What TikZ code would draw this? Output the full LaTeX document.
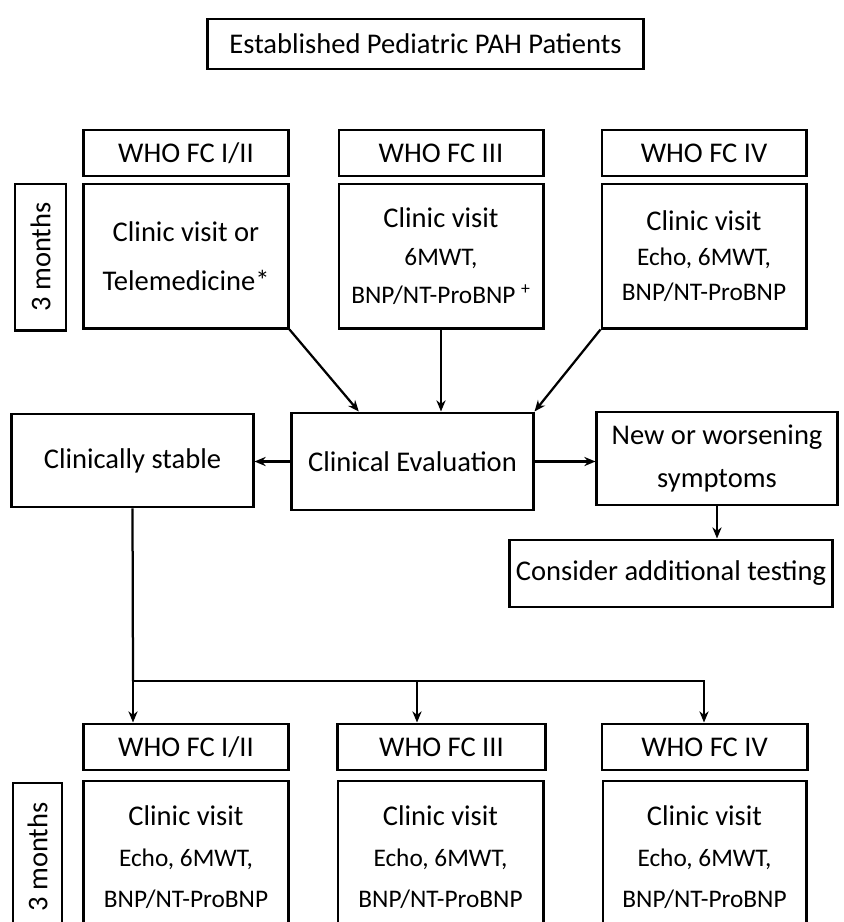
\documentclass[tikz,border=0pt]{standalone}
\usepackage{fontspec}
\setmainfont{Carlito}
\usetikzlibrary{arrows.meta,calc}

\newcommand{\smtxt}[1]{{\fontsize{18}{20}\selectfont #1}}

\begin{document}
\begin{tikzpicture}[x=0.025cm, y=-0.025cm,
    box/.style={draw, line width=2.1pt, align=center, inner sep=0pt,
                font=\fontsize{20.3}{25}\selectfont},
    hdr/.style={minimum width=5.1cm, minimum height=1.15cm},
    visit/.style={minimum width=5.1cm, minimum height=3.6cm},
    months/.style={rotate=90, minimum height=1.275cm},
    link/.style={-{Stealth[length=2.8mm, width=2.3mm]}, line width=1.6pt}]

    % 0. Page size (bottom boxes run off the page)
    \useasboundingbox (0,0) rectangle (843,922);
    \clip (0,0) rectangle (843,922);

    % 1. Patient group
    \node[box, minimum width=10.875cm, minimum height=1.25cm] (pah) at (425.5,44) {Established Pediatric PAH Patients};

    % 2. First follow-up, by functional class
    \node[box, hdr] (hI)   at (186,153)   {WHO FC I/II};
    \node[box, hdr] (hIII) at (441,153)   {WHO FC III};
    \node[box, hdr] (hIV)  at (704,153)   {WHO FC IV};

    \node[box, visit] (vI)   at (186,256) {Clinic visit or\\[0.5em] Telemedicine*};
    \node[box, visit] (vIII) at (441,256) {Clinic visit\\[2pt] \smtxt{6MWT,}\\[2pt] \smtxt{BNP/NT-ProBNP \textsuperscript{+}}};
    \node[box, visit] (vIV)  at (704,256) {Clinic visit\\ \smtxt{Echo, 6MWT,}\\ \smtxt{BNP/NT-ProBNP}};

    \node[box, months, minimum width=3.65cm] (mA) at (40.5,257) {3 months};

    % 3. Evaluation and outcomes
    \node[box, minimum width=6.025cm, minimum height=2.325cm] (stable) at (132.5,460.5) {Clinically stable};
    \node[box, minimum width=6.025cm, minimum height=2.425cm] (eval)   at (412.5,461.5) {Clinical Evaluation};
    \node[box, minimum width=6cm, minimum height=2.325cm]     (worse)  at (717,458.5)   {New or worsening\\[5pt] symptoms};
    \node[box, minimum width=8.05cm, minimum height=1.675cm]  (test)   at (671,573.5)   {Consider additional testing};

    \draw[link] (vI.south east) -- ($(eval.north west)!0.28!(eval.north east)$);
    \draw[link] (vIII.south) -- (vIII.south |- eval.north);
    \draw[link] (vIV.south west) -- (eval.north east);
    \draw[link] (eval.west) -- (eval.west -| stable.east);
    \draw[link] (eval.east) -- (eval.east -| worse.west);
    \draw[link] (worse.south) -- (worse.south |- test.north);

    % 4. Next follow-up, by functional class
    \node[box, hdr] (hIb)   at (186,747)   {WHO FC I/II};
    \node[box, hdr, minimum width=5.175cm] (hIIIb) at (441.5,747) {WHO FC III};
    \node[box, hdr, minimum width=5.125cm] (hIVb)  at (704.5,747) {WHO FC IV};

    \node[box, visit, minimum height=3.8cm] (vIb)   at (186,857)   {Clinic visit\\[4pt] \smtxt{Echo, 6MWT,}\\[4pt] \smtxt{BNP/NT-ProBNP}};
    \node[box, visit, minimum height=3.8cm, minimum width=5.125cm] (vIIIb) at (440.5,857) {Clinic visit\\[4pt] \smtxt{Echo, 6MWT,}\\[4pt] \smtxt{BNP/NT-ProBNP}};
    \node[box, visit, minimum height=3.8cm, minimum width=5.075cm] (vIVb)  at (704.5,857) {Clinic visit\\[4pt] \smtxt{Echo, 6MWT,}\\[4pt] \smtxt{BNP/NT-ProBNP}};

    \node[box, months, minimum width=3.7cm, minimum height=1.225cm] (mB) at (37.5,857) {3 months};

    % Branch from the stable box
    \coordinate (bA) at (133,681);
    \coordinate (bB) at (417,681);
    \coordinate (bC) at (704,681);
    \draw[line width=1.6pt] (stable.south) -- (bA);
    \draw[link] (bA) -- (bA |- hIb.north);
    \draw[link] (bB) -- (bB |- hIIIb.north);
    \draw[link] (bA) -- (bC) -- (bC |- hIVb.north);

\end{tikzpicture}
\end{document}
